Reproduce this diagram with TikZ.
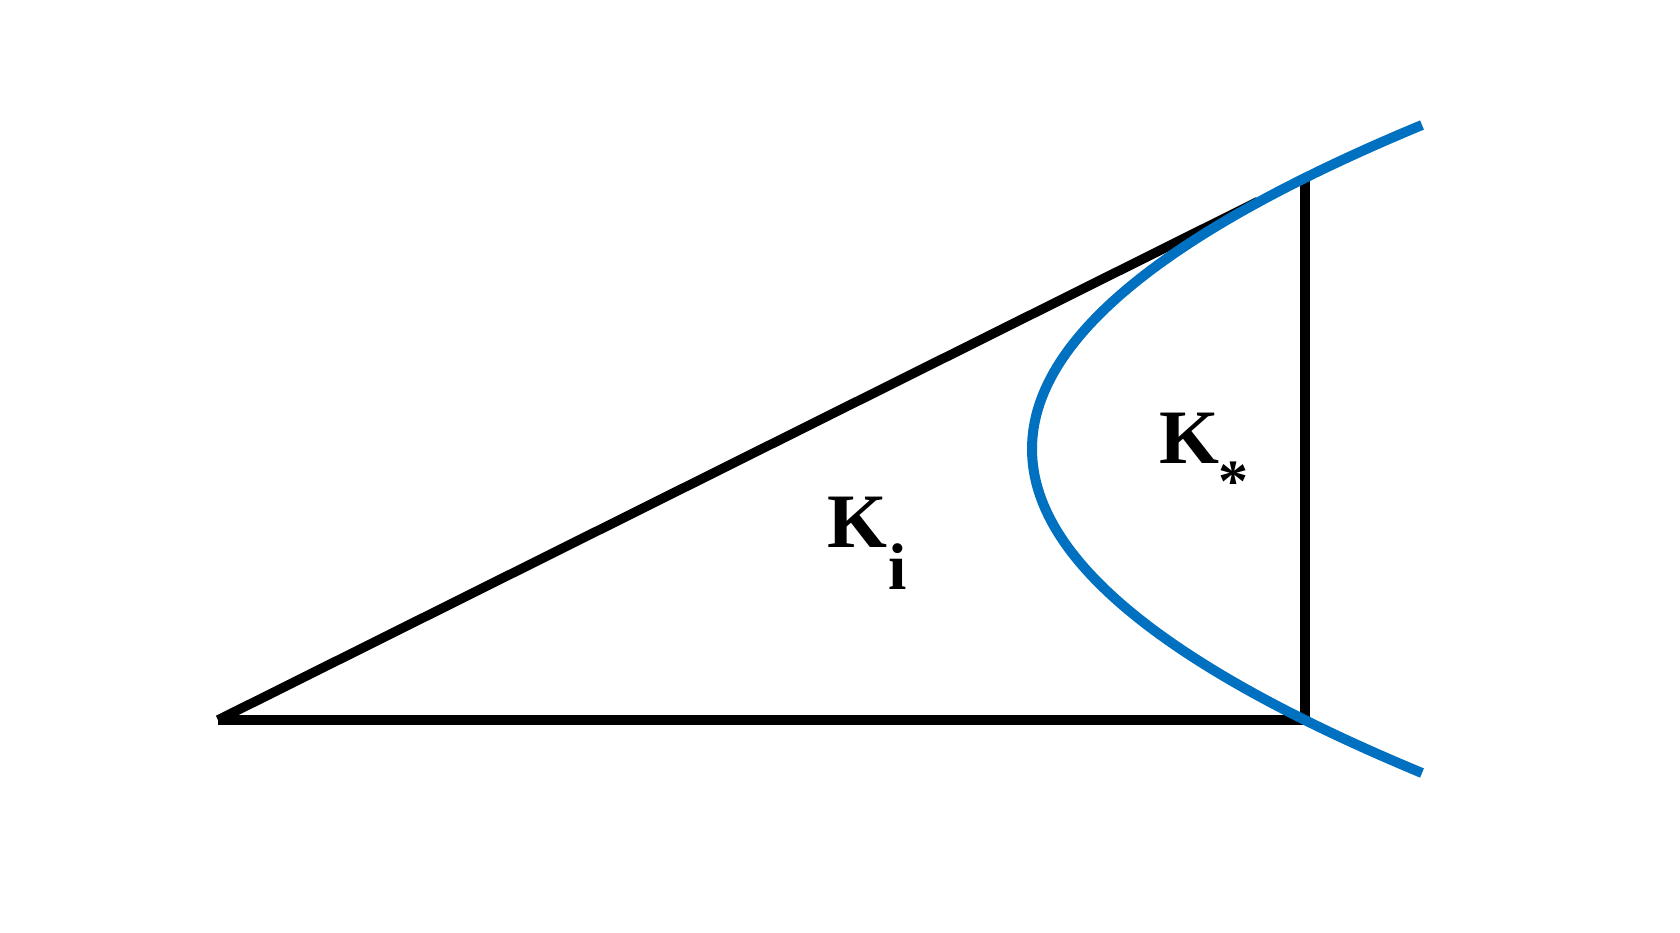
\documentclass[tikz,border=0pt]{standalone}
\usepackage{fontspec}
\setmainfont{Liberation Serif}
\definecolor{curveblue}{HTML}{0070C0}
\begin{document}
\begin{tikzpicture}[x=1pt,y=-1pt,
  edge/.style={draw=black,line width=9.5pt,line cap=butt,line join=miter},
  curve/.style={draw=curveblue,line width=10pt,line cap=butt},
  lbl/.style={inner sep=0pt,outer sep=0pt,anchor=base west,font=\bfseries\fontsize{77}{80}\selectfont}]
\useasboundingbox[fill=white] (0,0) rectangle (1680,932);
% vertices
\coordinate (A) at (218,720);
\coordinate (B) at (1305,720);
\coordinate (C) at (1305,180);
\coordinate (H) at (1258,201.5);
% parabola ends
\coordinate (P0) at (1422,125);
\coordinate (P2) at (1422,773);
% triangle
\draw[edge] (A) -- (B) -- (C);
\draw[edge] (A) -- (H);
% curve
\draw[curve] (P0) .. controls (902,341) and (902,557) .. (P2);
% labels
\node[lbl] (ki) at (827,547) {K\kern2pt\raisebox{-42pt}{\fontsize{66}{66}\selectfont i}};
\node[lbl] (ks) at (1159,463) {K\raisebox{-38pt}{\fontsize{60}{60}\selectfont *}};
\end{tikzpicture}
\end{document}
